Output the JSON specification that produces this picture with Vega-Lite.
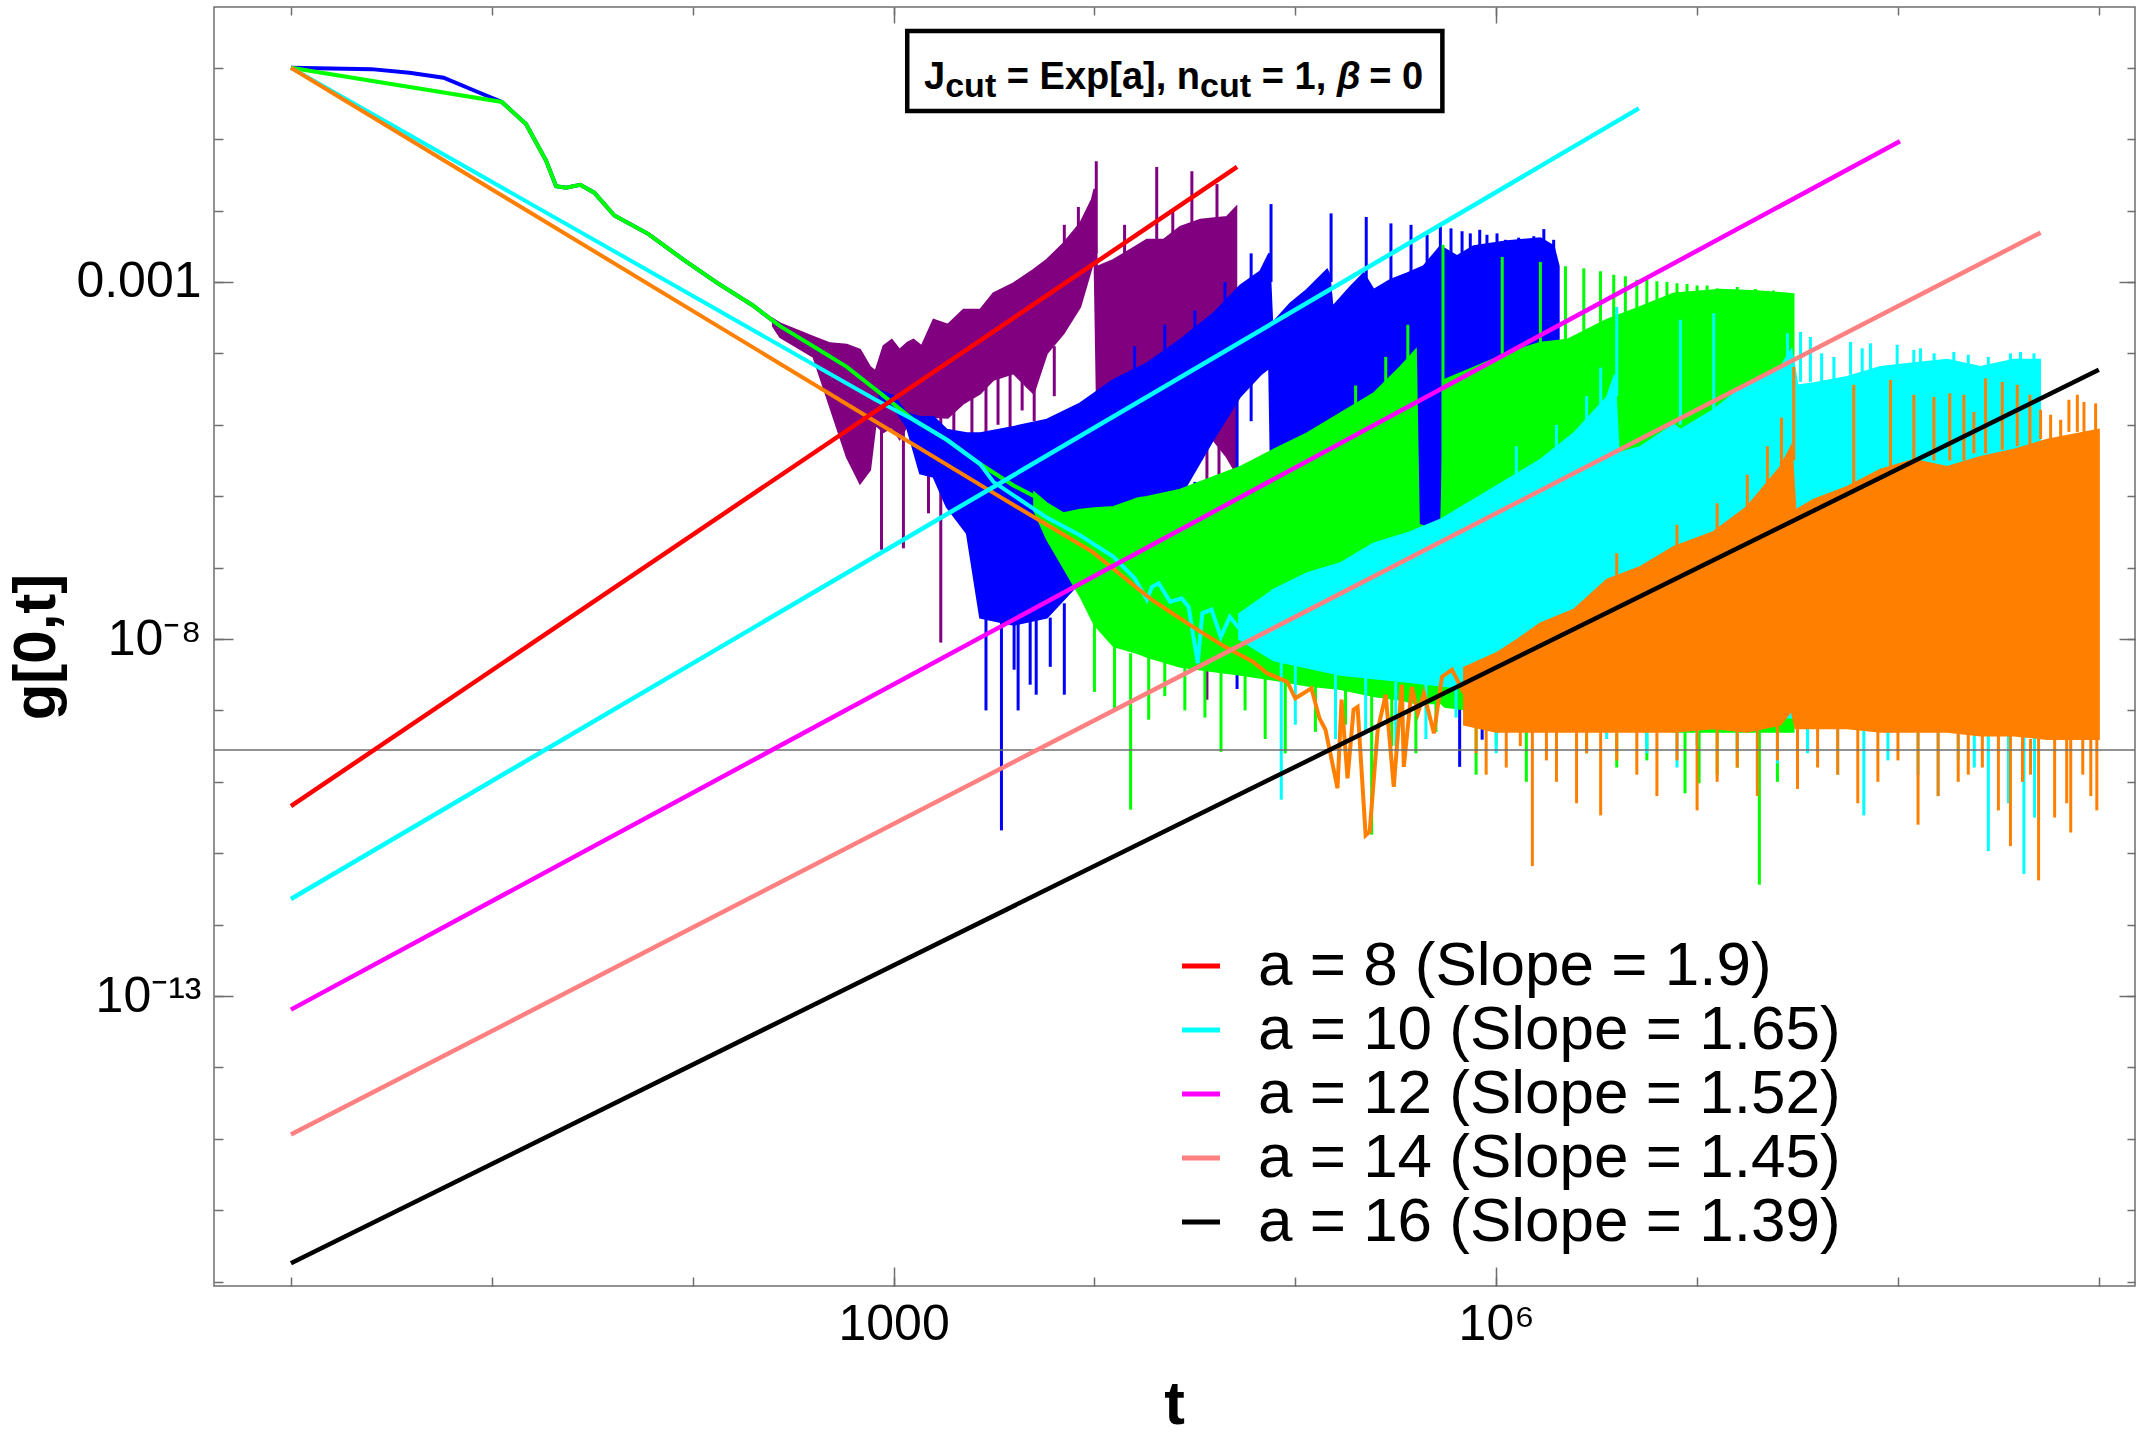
{
  "$schema": "https://vega.github.io/schema/vega-lite/v6.json",
  "width": 1921,
  "height": 1279,
  "autosize": {"type": "none"},
  "padding": {"left": 214, "top": 7, "right": 9, "bottom": 154},
  "background": "white",
  "config": {"view": {"stroke": "#6e6e6e", "strokeWidth": 1.5}, "font": "Liberation Sans"},
  "datasets": {
    "fits": [
      {"fit": "a = 8 (Slope = 1.9)", "lt": 0, "lg": -10.34},
      {"fit": "a = 8 (Slope = 1.9)", "lt": 4.71, "lg": -1.39},
      {"fit": "a = 10 (Slope = 1.65)", "lt": 0, "lg": -11.64},
      {"fit": "a = 10 (Slope = 1.65)", "lt": 6.71, "lg": -0.57},
      {"fit": "a = 12 (Slope = 1.52)", "lt": 0, "lg": -13.19},
      {"fit": "a = 12 (Slope = 1.52)", "lt": 8.01, "lg": -1.03},
      {"fit": "a = 14 (Slope = 1.45)", "lt": 0, "lg": -14.94},
      {"fit": "a = 14 (Slope = 1.45)", "lt": 8.71, "lg": -2.31},
      {"fit": "a = 16 (Slope = 1.39)", "lt": 0, "lg": -16.74},
      {"fit": "a = 16 (Slope = 1.39)", "lt": 9.0, "lg": -4.23}
    ],
    "early": [
      {"a": 10, "lt": 0, "lg": 0}, {"a": 10, "lt": 0.4, "lg": -0.02}, {"a": 10, "lt": 0.59, "lg": -0.07}, {"a": 10, "lt": 0.76, "lg": -0.14},
      {"a": 10, "lt": 0.93, "lg": -0.34}, {"a": 10, "lt": 1.05, "lg": -0.48}, {"a": 10, "lt": 1.17, "lg": -0.79},
      {"a": 10, "lt": 1.27, "lg": -1.3}, {"a": 10, "lt": 1.32, "lg": -1.66}, {"a": 10, "lt": 1.37, "lg": -1.68},
      {"a": 10, "lt": 1.44, "lg": -1.64}, {"a": 10, "lt": 1.51, "lg": -1.75}, {"a": 10, "lt": 1.61, "lg": -2.07},
      {"a": 10, "lt": 1.78, "lg": -2.33}, {"a": 10, "lt": 1.95, "lg": -2.68}, {"a": 10, "lt": 2.12, "lg": -3.01},
      {"a": 10, "lt": 2.3, "lg": -3.33}, {"a": 10, "lt": 2.435, "lg": -3.62}, {"a": 10, "lt": 2.6, "lg": -3.9},
      {"a": 10, "lt": 2.767, "lg": -4.19}, {"a": 10, "lt": 2.93, "lg": -4.55},
      {"a": 12, "lt": 0, "lg": 0}, {"a": 12, "lt": 1.05, "lg": -0.48}, {"a": 12, "lt": 1.17, "lg": -0.79},
      {"a": 12, "lt": 1.27, "lg": -1.3}, {"a": 12, "lt": 1.32, "lg": -1.66}, {"a": 12, "lt": 1.37, "lg": -1.68},
      {"a": 12, "lt": 1.44, "lg": -1.64}, {"a": 12, "lt": 1.51, "lg": -1.75}, {"a": 12, "lt": 1.61, "lg": -2.07},
      {"a": 12, "lt": 1.78, "lg": -2.33}, {"a": 12, "lt": 1.95, "lg": -2.68}, {"a": 12, "lt": 2.12, "lg": -3.01},
      {"a": 12, "lt": 2.3, "lg": -3.33}, {"a": 12, "lt": 2.435, "lg": -3.62}, {"a": 12, "lt": 2.6, "lg": -3.9},
      {"a": 12, "lt": 2.767, "lg": -4.19}, {"a": 12, "lt": 2.93, "lg": -4.55}, {"a": 12, "lt": 3.099, "lg": -4.93},
      {"a": 12, "lt": 3.265, "lg": -5.21}, {"a": 12, "lt": 3.431, "lg": -5.55}, {"a": 12, "lt": 3.597, "lg": -5.85},
      {"a": 12, "lt": 3.7, "lg": -6.0},
      {"a": 14, "lt": 0, "lg": 0}, {"a": 14, "lt": 2.908, "lg": -4.645}, {"a": 14, "lt": 3.099, "lg": -4.93},
      {"a": 14, "lt": 3.265, "lg": -5.21}, {"a": 14, "lt": 3.431, "lg": -5.55}, {"a": 14, "lt": 3.497, "lg": -5.8},
      {"a": 14, "lt": 3.763, "lg": -6.3}, {"a": 14, "lt": 3.93, "lg": -6.55}, {"a": 14, "lt": 4.095, "lg": -6.85},
      {"a": 14, "lt": 4.2, "lg": -7.15}, {"a": 14, "lt": 4.261, "lg": -7.45}, {"a": 14, "lt": 4.286, "lg": -7.27},
      {"a": 14, "lt": 4.32, "lg": -7.22}, {"a": 14, "lt": 4.377, "lg": -7.48}, {"a": 14, "lt": 4.434, "lg": -7.43},
      {"a": 14, "lt": 4.469, "lg": -7.55}, {"a": 14, "lt": 4.514, "lg": -8.34}, {"a": 14, "lt": 4.537, "lg": -7.64},
      {"a": 14, "lt": 4.583, "lg": -7.59}, {"a": 14, "lt": 4.629, "lg": -7.97}, {"a": 14, "lt": 4.674, "lg": -7.69},
      {"a": 14, "lt": 4.72, "lg": -7.85},
      {"a": 16, "lt": 0, "lg": 0}, {"a": 16, "lt": 3.53, "lg": -6.01}, {"a": 16, "lt": 3.99, "lg": -6.78},
      {"a": 16, "lt": 4.285, "lg": -7.45}, {"a": 16, "lt": 4.49, "lg": -7.83}, {"a": 16, "lt": 4.65, "lg": -8.11},
      {"a": 16, "lt": 4.79, "lg": -8.32}, {"a": 16, "lt": 4.86, "lg": -8.48}, {"a": 16, "lt": 4.96, "lg": -8.6},
      {"a": 16, "lt": 5.0, "lg": -8.83}, {"a": 16, "lt": 5.08, "lg": -8.69}, {"a": 16, "lt": 5.12, "lg": -9.11},
      {"a": 16, "lt": 5.15, "lg": -9.27}, {"a": 16, "lt": 5.21, "lg": -10.09}, {"a": 16, "lt": 5.23, "lg": -8.85},
      {"a": 16, "lt": 5.26, "lg": -9.95}, {"a": 16, "lt": 5.29, "lg": -8.99}, {"a": 16, "lt": 5.31, "lg": -8.95},
      {"a": 16, "lt": 5.35, "lg": -10.75}, {"a": 16, "lt": 5.37, "lg": -10.7}, {"a": 16, "lt": 5.41, "lg": -9.27},
      {"a": 16, "lt": 5.45, "lg": -8.78}, {"a": 16, "lt": 5.49, "lg": -10.07}, {"a": 16, "lt": 5.53, "lg": -8.64},
      {"a": 16, "lt": 5.54, "lg": -9.79}, {"a": 16, "lt": 5.58, "lg": -8.67}, {"a": 16, "lt": 5.61, "lg": -9.04},
      {"a": 16, "lt": 5.64, "lg": -8.76}, {"a": 16, "lt": 5.69, "lg": -9.32}, {"a": 16, "lt": 5.73, "lg": -8.53},
      {"a": 16, "lt": 5.78, "lg": -8.43}, {"a": 16, "lt": 5.84, "lg": -8.76}
    ],
    "bands": [
      {"a": 8, "lt": 2.4, "lo": -3.62, "hi": -3.52}, {"a": 8, "lt": 2.435, "lo": -3.77, "hi": -3.58},
      {"a": 8, "lt": 2.601, "lo": -4.05, "hi": -3.77}, {"a": 8, "lt": 2.684, "lo": -4.75, "hi": -3.86},
      {"a": 8, "lt": 2.767, "lo": -5.45, "hi": -3.88}, {"a": 8, "lt": 2.833, "lo": -5.82, "hi": -3.95},
      {"a": 8, "lt": 2.883, "lo": -5.63, "hi": -4.19}, {"a": 8, "lt": 2.91, "lo": -5.0, "hi": -4.25},
      {"a": 8, "lt": 2.95, "lo": -5.1, "hi": -3.9}, {"a": 8, "lt": 2.991, "lo": -5.03, "hi": -3.81},
      {"a": 8, "lt": 3.03, "lo": -5.2, "hi": -3.95}, {"a": 8, "lt": 3.07, "lo": -5.0, "hi": -3.85},
      {"a": 8, "lt": 3.099, "lo": -4.84, "hi": -3.81}, {"a": 8, "lt": 3.14, "lo": -5.0, "hi": -3.9},
      {"a": 8, "lt": 3.199, "lo": -4.89, "hi": -3.53}, {"a": 8, "lt": 3.27, "lo": -4.9, "hi": -3.6},
      {"a": 8, "lt": 3.348, "lo": -4.7, "hi": -3.39}, {"a": 8, "lt": 3.431, "lo": -4.56, "hi": -3.39},
      {"a": 8, "lt": 3.497, "lo": -4.37, "hi": -3.16}, {"a": 8, "lt": 3.597, "lo": -4.28, "hi": -3.02},
      {"a": 8, "lt": 3.697, "lo": -4.56, "hi": -2.83}, {"a": 8, "lt": 3.763, "lo": -4.0, "hi": -2.69},
      {"a": 8, "lt": 3.846, "lo": -3.72, "hi": -2.46}, {"a": 8, "lt": 3.929, "lo": -3.35, "hi": -2.18},
      {"a": 8, "lt": 3.987, "lo": -2.79, "hi": -1.85}, {"a": 8, "lt": 4.0, "lo": -2.6, "hi": -1.7},
      {"a": 8, "lt": 4.012, "lo": -4.65, "hi": -2.79}, {"a": 8, "lt": 4.095, "lo": -4.56, "hi": -2.69},
      {"a": 8, "lt": 4.178, "lo": -4.37, "hi": -2.55}, {"a": 8, "lt": 4.261, "lo": -4.28, "hi": -2.41},
      {"a": 8, "lt": 4.344, "lo": -4.37, "hi": -2.41}, {"a": 8, "lt": 4.427, "lo": -4.51, "hi": -2.23},
      {"a": 8, "lt": 4.527, "lo": -4.98, "hi": -2.13}, {"a": 8, "lt": 4.659, "lo": -5.45, "hi": -2.09},
      {"a": 8, "lt": 4.706, "lo": -5.68, "hi": -1.95},
      {"a": 10, "lt": 2.93, "lo": -4.62, "hi": -4.52}, {"a": 10, "lt": 3.0, "lo": -4.75, "hi": -4.6},
      {"a": 10, "lt": 3.066, "lo": -5.03, "hi": -4.84}, {"a": 10, "lt": 3.132, "lo": -5.68, "hi": -4.89},
      {"a": 10, "lt": 3.199, "lo": -5.73, "hi": -4.89}, {"a": 10, "lt": 3.265, "lo": -6.15, "hi": -5.07},
      {"a": 10, "lt": 3.365, "lo": -6.52, "hi": -5.12}, {"a": 10, "lt": 3.431, "lo": -7.7, "hi": -5.12},
      {"a": 10, "lt": 3.597, "lo": -7.8, "hi": -5.03}, {"a": 10, "lt": 3.763, "lo": -7.7, "hi": -4.93},
      {"a": 10, "lt": 3.929, "lo": -7.2, "hi": -4.7}, {"a": 10, "lt": 4.095, "lo": -6.4, "hi": -4.37},
      {"a": 10, "lt": 4.261, "lo": -6.3, "hi": -4.14}, {"a": 10, "lt": 4.427, "lo": -6.0, "hi": -3.81},
      {"a": 10, "lt": 4.593, "lo": -5.2, "hi": -3.44}, {"a": 10, "lt": 4.726, "lo": -4.6, "hi": -3.05},
      {"a": 10, "lt": 4.826, "lo": -4.3, "hi": -2.85}, {"a": 10, "lt": 4.87, "lo": -4.2, "hi": -2.6},
      {"a": 10, "lt": 4.885, "lo": -6.8, "hi": -3.58}, {"a": 10, "lt": 4.975, "lo": -6.8, "hi": -3.3},
      {"a": 10, "lt": 5.058, "lo": -6.8, "hi": -3.11}, {"a": 10, "lt": 5.158, "lo": -6.8, "hi": -2.83},
      {"a": 10, "lt": 5.17, "lo": -6.8, "hi": -2.9}, {"a": 10, "lt": 5.185, "lo": -6.8, "hi": -3.35},
      {"a": 10, "lt": 5.274, "lo": -6.8, "hi": -3.07}, {"a": 10, "lt": 5.34, "lo": -6.8, "hi": -2.88},
      {"a": 10, "lt": 5.39, "lo": -6.8, "hi": -3.11}, {"a": 10, "lt": 5.473, "lo": -6.8, "hi": -2.97},
      {"a": 10, "lt": 5.556, "lo": -6.7, "hi": -2.88}, {"a": 10, "lt": 5.639, "lo": -6.6, "hi": -2.78},
      {"a": 10, "lt": 5.722, "lo": -6.6, "hi": -2.5}, {"a": 10, "lt": 5.805, "lo": -6.6, "hi": -2.64},
      {"a": 10, "lt": 5.888, "lo": -6.6, "hi": -2.5}, {"a": 10, "lt": 6.054, "lo": -6.6, "hi": -2.43},
      {"a": 10, "lt": 6.22, "lo": -6.6, "hi": -2.39}, {"a": 10, "lt": 6.286, "lo": -6.6, "hi": -2.5},
      {"a": 10, "lt": 6.311, "lo": -6.6, "hi": -2.78},
      {"a": 12, "lt": 3.7, "lo": -6.2, "hi": -5.95}, {"a": 12, "lt": 3.763, "lo": -6.6, "hi": -6.1},
      {"a": 12, "lt": 3.846, "lo": -7.0, "hi": -6.24}, {"a": 12, "lt": 3.929, "lo": -7.4, "hi": -6.19},
      {"a": 12, "lt": 4.0, "lo": -7.8, "hi": -6.17}, {"a": 12, "lt": 4.095, "lo": -8.1, "hi": -6.15},
      {"a": 12, "lt": 4.217, "lo": -8.2, "hi": -6.03}, {"a": 12, "lt": 4.261, "lo": -8.25, "hi": -6.01},
      {"a": 12, "lt": 4.427, "lo": -8.39, "hi": -5.91}, {"a": 12, "lt": 4.593, "lo": -8.45, "hi": -5.73},
      {"a": 12, "lt": 4.726, "lo": -8.5, "hi": -5.59}, {"a": 12, "lt": 4.892, "lo": -8.57, "hi": -5.35},
      {"a": 12, "lt": 5.058, "lo": -8.65, "hi": -5.12}, {"a": 12, "lt": 5.224, "lo": -8.7, "hi": -4.84},
      {"a": 12, "lt": 5.39, "lo": -8.8, "hi": -4.56}, {"a": 12, "lt": 5.523, "lo": -8.85, "hi": -4.19},
      {"a": 12, "lt": 5.6, "lo": -8.9, "hi": -3.95}, {"a": 12, "lt": 5.615, "lo": -8.9, "hi": -6.4},
      {"a": 12, "lt": 5.725, "lo": -8.9, "hi": -6.5}, {"a": 12, "lt": 5.745, "lo": -8.95, "hi": -4.37},
      {"a": 12, "lt": 5.888, "lo": -9.0, "hi": -4.2}, {"a": 12, "lt": 6.054, "lo": -9.0, "hi": -4.0},
      {"a": 12, "lt": 6.22, "lo": -9.05, "hi": -3.85}, {"a": 12, "lt": 6.353, "lo": -9.05, "hi": -3.81},
      {"a": 12, "lt": 6.552, "lo": -9.1, "hi": -3.53}, {"a": 12, "lt": 6.718, "lo": -9.2, "hi": -3.35},
      {"a": 12, "lt": 6.884, "lo": -9.3, "hi": -3.16}, {"a": 12, "lt": 7.116, "lo": -9.3, "hi": -3.11},
      {"a": 12, "lt": 7.3, "lo": -9.3, "hi": -3.13}, {"a": 12, "lt": 7.48, "lo": -9.3, "hi": -3.17},
      {"a": 14, "lt": 4.72, "lo": -8.0, "hi": -7.65}, {"a": 14, "lt": 4.892, "lo": -8.3, "hi": -7.31},
      {"a": 14, "lt": 5.058, "lo": -8.4, "hi": -7.08}, {"a": 14, "lt": 5.224, "lo": -8.5, "hi": -6.94},
      {"a": 14, "lt": 5.39, "lo": -8.55, "hi": -6.66}, {"a": 14, "lt": 5.556, "lo": -8.6, "hi": -6.52},
      {"a": 14, "lt": 5.722, "lo": -8.65, "hi": -6.33}, {"a": 14, "lt": 5.888, "lo": -8.7, "hi": -6.05},
      {"a": 14, "lt": 6.054, "lo": -8.75, "hi": -5.77}, {"a": 14, "lt": 6.22, "lo": -8.8, "hi": -5.49},
      {"a": 14, "lt": 6.386, "lo": -8.85, "hi": -5.12}, {"a": 14, "lt": 6.552, "lo": -8.9, "hi": -4.61},
      {"a": 14, "lt": 6.59, "lo": -8.9, "hi": -4.3}, {"a": 14, "lt": 6.61, "lo": -8.95, "hi": -5.4},
      {"a": 14, "lt": 6.718, "lo": -9.0, "hi": -5.31}, {"a": 14, "lt": 6.884, "lo": -9.05, "hi": -5.0},
      {"a": 14, "lt": 6.917, "lo": -9.05, "hi": -5.07}, {"a": 14, "lt": 7.083, "lo": -9.1, "hi": -4.79},
      {"a": 14, "lt": 7.249, "lo": -9.1, "hi": -4.42}, {"a": 14, "lt": 7.415, "lo": -9.1, "hi": -4.19},
      {"a": 14, "lt": 7.47, "lo": -9.1, "hi": -3.95}, {"a": 14, "lt": 7.5, "lo": -9.1, "hi": -4.45},
      {"a": 14, "lt": 7.581, "lo": -9.1, "hi": -4.42}, {"a": 14, "lt": 7.747, "lo": -9.1, "hi": -4.33},
      {"a": 14, "lt": 7.913, "lo": -9.15, "hi": -4.19}, {"a": 14, "lt": 8.079, "lo": -9.15, "hi": -4.14},
      {"a": 14, "lt": 8.245, "lo": -9.2, "hi": -4.09}, {"a": 14, "lt": 8.411, "lo": -9.2, "hi": -4.19},
      {"a": 14, "lt": 8.577, "lo": -9.2, "hi": -4.09}, {"a": 14, "lt": 8.707, "lo": -9.2, "hi": -4.09},
      {"a": 16, "lt": 5.84, "lo": -9.2, "hi": -8.4}, {"a": 16, "lt": 6.0, "lo": -9.3, "hi": -8.2},
      {"a": 16, "lt": 6.104, "lo": -9.3, "hi": -8.01}, {"a": 16, "lt": 6.22, "lo": -9.3, "hi": -7.78},
      {"a": 16, "lt": 6.386, "lo": -9.3, "hi": -7.59}, {"a": 16, "lt": 6.552, "lo": -9.3, "hi": -7.17},
      {"a": 16, "lt": 6.718, "lo": -9.3, "hi": -6.99}, {"a": 16, "lt": 6.884, "lo": -9.3, "hi": -6.71},
      {"a": 16, "lt": 7.083, "lo": -9.25, "hi": -6.5}, {"a": 16, "lt": 7.249, "lo": -9.3, "hi": -6.15},
      {"a": 16, "lt": 7.415, "lo": -9.2, "hi": -5.59}, {"a": 16, "lt": 7.47, "lo": -9.0, "hi": -5.3},
      {"a": 16, "lt": 7.49, "lo": -9.25, "hi": -6.2}, {"a": 16, "lt": 7.581, "lo": -9.25, "hi": -6.05},
      {"a": 16, "lt": 7.747, "lo": -9.25, "hi": -5.87}, {"a": 16, "lt": 7.913, "lo": -9.3, "hi": -5.63},
      {"a": 16, "lt": 8.079, "lo": -9.3, "hi": -5.49}, {"a": 16, "lt": 8.245, "lo": -9.3, "hi": -5.59},
      {"a": 16, "lt": 8.411, "lo": -9.35, "hi": -5.45}, {"a": 16, "lt": 8.577, "lo": -9.35, "hi": -5.35},
      {"a": 16, "lt": 8.743, "lo": -9.4, "hi": -5.21}, {"a": 16, "lt": 8.909, "lo": -9.4, "hi": -5.12},
      {"a": 16, "lt": 9.0, "lo": -9.4, "hi": -5.07}
    ],
    "spikes": [
      {"a": 8, "lt": 4.009, "lo": -2.6, "hi": -1.31}, {"a": 8, "lt": 4.31, "lo": -2.6, "hi": -1.39},
      {"a": 8, "lt": 4.485, "lo": -2.4, "hi": -1.45}, {"a": 8, "lt": 4.61, "lo": -2.3, "hi": -1.63},
      {"a": 8, "lt": 3.92, "lo": -2.4, "hi": -1.95}, {"a": 8, "lt": 3.85, "lo": -2.6, "hi": -2.2},
      {"a": 8, "lt": 4.15, "lo": -2.8, "hi": -2.2}, {"a": 8, "lt": 4.39, "lo": -2.6, "hi": -2.0},
      {"a": 8, "lt": 2.94, "lo": -6.75, "hi": -5.0}, {"a": 8, "lt": 3.049, "lo": -6.73, "hi": -5.0},
      {"a": 8, "lt": 3.174, "lo": -6.24, "hi": -4.9}, {"a": 8, "lt": 3.235, "lo": -8.05, "hi": -4.9},
      {"a": 8, "lt": 3.3, "lo": -5.6, "hi": -4.8}, {"a": 8, "lt": 3.39, "lo": -5.3, "hi": -4.6},
      {"a": 8, "lt": 3.46, "lo": -5.5, "hi": -4.4}, {"a": 8, "lt": 3.52, "lo": -5.0, "hi": -4.3},
      {"a": 8, "lt": 3.58, "lo": -5.2, "hi": -4.2}, {"a": 8, "lt": 3.64, "lo": -4.8, "hi": -4.2},
      {"a": 8, "lt": 3.7, "lo": -4.95, "hi": -4.4}, {"a": 8, "lt": 3.8, "lo": -4.6, "hi": -3.9},
      {"a": 8, "lt": 4.22, "lo": -6.05, "hi": -4.3}, {"a": 8, "lt": 4.3, "lo": -5.5, "hi": -4.3},
      {"a": 8, "lt": 4.4, "lo": -5.2, "hi": -4.4}, {"a": 8, "lt": 4.56, "lo": -8.85, "hi": -5.0},
      {"a": 8, "lt": 4.62, "lo": -5.9, "hi": -5.2},
      {"a": 10, "lt": 4.879, "lo": -3.0, "hi": -1.91}, {"a": 10, "lt": 5.178, "lo": -3.0, "hi": -2.04},
      {"a": 10, "lt": 5.353, "lo": -3.0, "hi": -2.09}, {"a": 10, "lt": 5.476, "lo": -3.0, "hi": -2.18},
      {"a": 10, "lt": 5.576, "lo": -3.0, "hi": -2.2}, {"a": 10, "lt": 5.656, "lo": -3.0, "hi": -2.34},
      {"a": 10, "lt": 5.722, "lo": -2.8, "hi": -2.22}, {"a": 10, "lt": 5.775, "lo": -2.8, "hi": -2.25},
      {"a": 10, "lt": 5.83, "lo": -2.8, "hi": -2.29}, {"a": 10, "lt": 5.871, "lo": -2.8, "hi": -2.32},
      {"a": 10, "lt": 5.918, "lo": -2.8, "hi": -2.27}, {"a": 10, "lt": 5.954, "lo": -2.8, "hi": -2.34},
      {"a": 10, "lt": 6.004, "lo": -2.8, "hi": -2.32}, {"a": 10, "lt": 6.046, "lo": -2.8, "hi": -2.41},
      {"a": 10, "lt": 6.112, "lo": -2.8, "hi": -2.38}, {"a": 10, "lt": 6.154, "lo": -2.8, "hi": -2.41},
      {"a": 10, "lt": 6.187, "lo": -2.8, "hi": -2.36}, {"a": 10, "lt": 6.237, "lo": -2.8, "hi": -2.26},
      {"a": 10, "lt": 6.286, "lo": -2.8, "hi": -2.41},
      {"a": 10, "lt": 4.2, "lo": -4.6, "hi": -3.9}, {"a": 10, "lt": 4.35, "lo": -4.4, "hi": -3.6},
      {"a": 10, "lt": 4.5, "lo": -4.1, "hi": -3.4}, {"a": 10, "lt": 4.65, "lo": -3.8, "hi": -3.0},
      {"a": 10, "lt": 4.78, "lo": -3.4, "hi": -2.6},
      {"a": 10, "lt": 3.46, "lo": -9.0, "hi": -7.7}, {"a": 10, "lt": 3.537, "lo": -10.68, "hi": -7.7},
      {"a": 10, "lt": 3.6, "lo": -8.43, "hi": -7.7}, {"a": 10, "lt": 3.62, "lo": -9.0, "hi": -7.7},
      {"a": 10, "lt": 3.68, "lo": -8.64, "hi": -7.7}, {"a": 10, "lt": 3.71, "lo": -8.78, "hi": -7.7},
      {"a": 10, "lt": 3.78, "lo": -8.39, "hi": -7.7}, {"a": 10, "lt": 3.85, "lo": -8.78, "hi": -7.5},
      {"a": 10, "lt": 4.0, "lo": -7.6, "hi": -6.8}, {"a": 10, "lt": 4.15, "lo": -7.0, "hi": -6.3},
      {"a": 10, "lt": 4.35, "lo": -6.8, "hi": -6.0}, {"a": 10, "lt": 4.5, "lo": -6.5, "hi": -5.8},
      {"a": 10, "lt": 4.71, "lo": -8.7, "hi": -4.6}, {"a": 10, "lt": 4.78, "lo": -4.95, "hi": -4.4},
      {"a": 10, "lt": 5.27, "lo": -8.67, "hi": -6.8}, {"a": 10, "lt": 5.43, "lo": -8.7, "hi": -6.8},
      {"a": 10, "lt": 5.52, "lo": -8.57, "hi": -6.8}, {"a": 10, "lt": 5.61, "lo": -8.53, "hi": -6.6},
      {"a": 10, "lt": 5.818, "lo": -9.79, "hi": -6.6}, {"a": 10, "lt": 5.86, "lo": -8.85, "hi": -6.6},
      {"a": 10, "lt": 5.93, "lo": -9.41, "hi": -6.6},
      {"a": 12, "lt": 5.735, "lo": -6.5, "hi": -2.48}, {"a": 12, "lt": 6.03, "lo": -4.1, "hi": -2.65},
      {"a": 12, "lt": 6.22, "lo": -3.9, "hi": -2.72}, {"a": 12, "lt": 6.345, "lo": -3.85, "hi": -2.78},
      {"a": 12, "lt": 6.436, "lo": -3.7, "hi": -2.81}, {"a": 12, "lt": 6.519, "lo": -3.6, "hi": -2.85},
      {"a": 12, "lt": 6.585, "lo": -3.5, "hi": -2.9}, {"a": 12, "lt": 6.643, "lo": -3.45, "hi": -2.92},
      {"a": 12, "lt": 6.7, "lo": -3.4, "hi": -2.97}, {"a": 12, "lt": 6.75, "lo": -3.35, "hi": -2.97},
      {"a": 12, "lt": 6.8, "lo": -3.3, "hi": -2.99}, {"a": 12, "lt": 6.85, "lo": -3.25, "hi": -3.0},
      {"a": 12, "lt": 6.9, "lo": -3.2, "hi": -3.02}, {"a": 12, "lt": 6.95, "lo": -3.2, "hi": -3.03},
      {"a": 12, "lt": 7.0, "lo": -3.2, "hi": -3.05}, {"a": 12, "lt": 7.05, "lo": -3.2, "hi": -3.05},
      {"a": 12, "lt": 7.1, "lo": -3.2, "hi": -3.09}, {"a": 12, "lt": 7.2, "lo": -3.25, "hi": -3.07},
      {"a": 12, "lt": 7.29, "lo": -3.25, "hi": -3.1}, {"a": 12, "lt": 7.38, "lo": -3.25, "hi": -3.12},
      {"a": 12, "lt": 7.46, "lo": -3.3, "hi": -3.17},
      {"a": 12, "lt": 5.3, "lo": -4.9, "hi": -4.45}, {"a": 12, "lt": 5.45, "lo": -4.6, "hi": -4.05},
      {"a": 12, "lt": 5.56, "lo": -4.3, "hi": -3.6},
      {"a": 12, "lt": 4.0, "lo": -8.74, "hi": -7.8}, {"a": 12, "lt": 4.1, "lo": -9.0, "hi": -8.0},
      {"a": 12, "lt": 4.18, "lo": -10.39, "hi": -8.2}, {"a": 12, "lt": 4.27, "lo": -9.13, "hi": -8.2},
      {"a": 12, "lt": 4.35, "lo": -8.8, "hi": -8.3}, {"a": 12, "lt": 4.45, "lo": -9.0, "hi": -8.3},
      {"a": 12, "lt": 4.55, "lo": -9.1, "hi": -8.4}, {"a": 12, "lt": 4.63, "lo": -9.58, "hi": -8.45},
      {"a": 12, "lt": 4.75, "lo": -9.0, "hi": -8.5}, {"a": 12, "lt": 4.85, "lo": -9.4, "hi": -8.5},
      {"a": 12, "lt": 4.95, "lo": -9.6, "hi": -8.6}, {"a": 12, "lt": 5.1, "lo": -9.3, "hi": -8.6},
      {"a": 12, "lt": 5.25, "lo": -9.2, "hi": -8.7}, {"a": 12, "lt": 5.38, "lo": -10.74, "hi": -8.8},
      {"a": 12, "lt": 5.48, "lo": -9.5, "hi": -8.8}, {"a": 12, "lt": 5.6, "lo": -9.6, "hi": -8.9},
      {"a": 12, "lt": 5.7, "lo": -9.3, "hi": -8.9}, {"a": 12, "lt": 5.9, "lo": -9.9, "hi": -9.0},
      {"a": 12, "lt": 6.0, "lo": -9.5, "hi": -9.0}, {"a": 12, "lt": 6.15, "lo": -10.0, "hi": -9.0},
      {"a": 12, "lt": 6.3, "lo": -9.7, "hi": -9.0}, {"a": 12, "lt": 6.45, "lo": -9.6, "hi": -9.05},
      {"a": 12, "lt": 6.6, "lo": -9.8, "hi": -9.1}, {"a": 12, "lt": 6.75, "lo": -9.7, "hi": -9.2},
      {"a": 12, "lt": 6.94, "lo": -10.16, "hi": -9.3}, {"a": 12, "lt": 7.01, "lo": -10.02, "hi": -9.3},
      {"a": 12, "lt": 7.1, "lo": -9.9, "hi": -9.3}, {"a": 12, "lt": 7.2, "lo": -9.8, "hi": -9.3},
      {"a": 12, "lt": 7.31, "lo": -11.44, "hi": -9.3}, {"a": 12, "lt": 7.4, "lo": -10.0, "hi": -9.3},
      {"a": 14, "lt": 6.6, "lo": -4.6, "hi": -3.35}, {"a": 14, "lt": 6.917, "lo": -5.0, "hi": -3.53},
      {"a": 14, "lt": 7.083, "lo": -4.8, "hi": -3.44}, {"a": 14, "lt": 7.45, "lo": -4.2, "hi": -3.72},
      {"a": 14, "lt": 7.515, "lo": -4.4, "hi": -3.7}, {"a": 14, "lt": 7.564, "lo": -4.4, "hi": -3.77},
      {"a": 14, "lt": 7.62, "lo": -4.4, "hi": -4.0}, {"a": 14, "lt": 7.681, "lo": -4.4, "hi": -4.05},
      {"a": 14, "lt": 7.764, "lo": -4.3, "hi": -3.84}, {"a": 14, "lt": 7.822, "lo": -4.3, "hi": -3.93},
      {"a": 14, "lt": 7.863, "lo": -4.3, "hi": -3.86}, {"a": 14, "lt": 7.996, "lo": -4.2, "hi": -3.88},
      {"a": 14, "lt": 8.079, "lo": -4.2, "hi": -3.95}, {"a": 14, "lt": 8.112, "lo": -4.2, "hi": -3.93},
      {"a": 14, "lt": 8.18, "lo": -4.2, "hi": -4.0}, {"a": 14, "lt": 8.278, "lo": -4.2, "hi": -3.98},
      {"a": 14, "lt": 8.35, "lo": -4.2, "hi": -4.02}, {"a": 14, "lt": 8.45, "lo": -4.2, "hi": -4.05},
      {"a": 14, "lt": 8.56, "lo": -4.2, "hi": -4.0}, {"a": 14, "lt": 8.61, "lo": -4.2, "hi": -3.98},
      {"a": 14, "lt": 8.677, "lo": -4.2, "hi": -4.0},
      {"a": 14, "lt": 6.1, "lo": -5.8, "hi": -5.3}, {"a": 14, "lt": 6.3, "lo": -5.4, "hi": -5.0},
      {"a": 14, "lt": 6.45, "lo": -5.0, "hi": -4.6}, {"a": 14, "lt": 6.52, "lo": -4.8, "hi": -4.2},
      {"a": 14, "lt": 4.93, "lo": -10.25, "hi": -8.3}, {"a": 14, "lt": 5.0, "lo": -9.2, "hi": -8.3},
      {"a": 14, "lt": 5.2, "lo": -9.4, "hi": -8.5}, {"a": 14, "lt": 5.35, "lo": -9.3, "hi": -8.5},
      {"a": 14, "lt": 5.5, "lo": -9.5, "hi": -8.6}, {"a": 14, "lt": 5.65, "lo": -9.4, "hi": -8.6},
      {"a": 14, "lt": 5.8, "lo": -9.1, "hi": -8.7}, {"a": 14, "lt": 6.0, "lo": -9.6, "hi": -8.7},
      {"a": 14, "lt": 6.15, "lo": -9.3, "hi": -8.8}, {"a": 14, "lt": 6.3, "lo": -9.7, "hi": -8.8},
      {"a": 14, "lt": 6.4, "lo": -9.5, "hi": -8.9}, {"a": 14, "lt": 6.55, "lo": -9.4, "hi": -8.9},
      {"a": 14, "lt": 6.75, "lo": -9.6, "hi": -9.0}, {"a": 14, "lt": 6.9, "lo": -9.8, "hi": -9.0},
      {"a": 14, "lt": 7.0, "lo": -9.5, "hi": -9.1}, {"a": 14, "lt": 7.2, "lo": -9.6, "hi": -9.1},
      {"a": 14, "lt": 7.3, "lo": -10.1, "hi": -9.1}, {"a": 14, "lt": 7.4, "lo": -9.74, "hi": -9.1},
      {"a": 14, "lt": 7.55, "lo": -9.6, "hi": -9.1}, {"a": 14, "lt": 7.7, "lo": -9.9, "hi": -9.1},
      {"a": 14, "lt": 7.83, "lo": -10.47, "hi": -9.1}, {"a": 14, "lt": 7.95, "lo": -9.7, "hi": -9.1},
      {"a": 14, "lt": 8.1, "lo": -9.9, "hi": -9.1}, {"a": 14, "lt": 8.2, "lo": -10.2, "hi": -9.2},
      {"a": 14, "lt": 8.3, "lo": -9.7, "hi": -9.2}, {"a": 14, "lt": 8.38, "lo": -9.8, "hi": -9.2},
      {"a": 14, "lt": 8.45, "lo": -10.97, "hi": -9.2}, {"a": 14, "lt": 8.55, "lo": -10.3, "hi": -9.2},
      {"a": 14, "lt": 8.627, "lo": -11.29, "hi": -9.2}, {"a": 14, "lt": 8.68, "lo": -10.5, "hi": -9.2},
      {"a": 16, "lt": 7.481, "lo": -5.5, "hi": -4.19}, {"a": 16, "lt": 7.78, "lo": -5.9, "hi": -4.44},
      {"a": 16, "lt": 7.963, "lo": -5.6, "hi": -4.37}, {"a": 16, "lt": 8.079, "lo": -5.5, "hi": -4.58},
      {"a": 16, "lt": 8.179, "lo": -5.5, "hi": -4.61}, {"a": 16, "lt": 8.258, "lo": -5.5, "hi": -4.56},
      {"a": 16, "lt": 8.328, "lo": -5.5, "hi": -4.58}, {"a": 16, "lt": 8.378, "lo": -5.4, "hi": -4.82},
      {"a": 16, "lt": 8.436, "lo": -5.4, "hi": -4.35}, {"a": 16, "lt": 8.519, "lo": -5.35, "hi": -4.4},
      {"a": 16, "lt": 8.594, "lo": -5.3, "hi": -4.44}, {"a": 16, "lt": 8.657, "lo": -5.3, "hi": -4.58},
      {"a": 16, "lt": 8.71, "lo": -5.2, "hi": -4.79}, {"a": 16, "lt": 8.76, "lo": -5.2, "hi": -4.86},
      {"a": 16, "lt": 8.81, "lo": -5.2, "hi": -4.93}, {"a": 16, "lt": 8.851, "lo": -5.1, "hi": -4.65},
      {"a": 16, "lt": 8.893, "lo": -5.1, "hi": -4.58}, {"a": 16, "lt": 8.926, "lo": -5.1, "hi": -4.68},
      {"a": 16, "lt": 8.984, "lo": -5.1, "hi": -4.7},
      {"a": 16, "lt": 6.6, "lo": -7.2, "hi": -6.8}, {"a": 16, "lt": 6.9, "lo": -6.8, "hi": -6.4},
      {"a": 16, "lt": 7.1, "lo": -6.5, "hi": -6.1}, {"a": 16, "lt": 7.25, "lo": -6.2, "hi": -5.7},
      {"a": 16, "lt": 7.35, "lo": -5.9, "hi": -5.3}, {"a": 16, "lt": 7.42, "lo": -5.6, "hi": -4.9},
      {"a": 16, "lt": 5.9, "lo": -9.6, "hi": -9.2}, {"a": 16, "lt": 5.95, "lo": -9.9, "hi": -9.2},
      {"a": 16, "lt": 6.05, "lo": -9.8, "hi": -9.3}, {"a": 16, "lt": 6.12, "lo": -9.5, "hi": -9.3},
      {"a": 16, "lt": 6.18, "lo": -11.18, "hi": -9.3}, {"a": 16, "lt": 6.25, "lo": -9.7, "hi": -9.3},
      {"a": 16, "lt": 6.3, "lo": -10.0, "hi": -9.3}, {"a": 16, "lt": 6.4, "lo": -10.3, "hi": -9.3},
      {"a": 16, "lt": 6.45, "lo": -9.6, "hi": -9.3}, {"a": 16, "lt": 6.52, "lo": -10.47, "hi": -9.3},
      {"a": 16, "lt": 6.6, "lo": -9.7, "hi": -9.3}, {"a": 16, "lt": 6.7, "lo": -9.9, "hi": -9.3},
      {"a": 16, "lt": 6.8, "lo": -10.2, "hi": -9.3}, {"a": 16, "lt": 6.9, "lo": -9.7, "hi": -9.3},
      {"a": 16, "lt": 7.0, "lo": -10.4, "hi": -9.25}, {"a": 16, "lt": 7.1, "lo": -10.0, "hi": -9.25},
      {"a": 16, "lt": 7.2, "lo": -9.8, "hi": -9.25}, {"a": 16, "lt": 7.3, "lo": -10.2, "hi": -9.25},
      {"a": 16, "lt": 7.4, "lo": -9.7, "hi": -9.2}, {"a": 16, "lt": 7.5, "lo": -10.1, "hi": -9.25},
      {"a": 16, "lt": 7.6, "lo": -9.8, "hi": -9.25}, {"a": 16, "lt": 7.7, "lo": -9.9, "hi": -9.25},
      {"a": 16, "lt": 7.8, "lo": -10.3, "hi": -9.25}, {"a": 16, "lt": 7.9, "lo": -10.0, "hi": -9.3},
      {"a": 16, "lt": 8.0, "lo": -9.7, "hi": -9.3}, {"a": 16, "lt": 8.1, "lo": -10.6, "hi": -9.3},
      {"a": 16, "lt": 8.2, "lo": -10.2, "hi": -9.3}, {"a": 16, "lt": 8.3, "lo": -10.0, "hi": -9.3},
      {"a": 16, "lt": 8.35, "lo": -9.9, "hi": -9.3}, {"a": 16, "lt": 8.42, "lo": -9.8, "hi": -9.35},
      {"a": 16, "lt": 8.5, "lo": -10.4, "hi": -9.35}, {"a": 16, "lt": 8.56, "lo": -10.9, "hi": -9.35},
      {"a": 16, "lt": 8.62, "lo": -10.0, "hi": -9.35}, {"a": 16, "lt": 8.66, "lo": -9.9, "hi": -9.4},
      {"a": 16, "lt": 8.7, "lo": -11.38, "hi": -9.4}, {"a": 16, "lt": 8.78, "lo": -10.5, "hi": -9.4},
      {"a": 16, "lt": 8.84, "lo": -10.3, "hi": -9.4}, {"a": 16, "lt": 8.86, "lo": -10.71, "hi": -9.4},
      {"a": 16, "lt": 8.92, "lo": -9.9, "hi": -9.4}, {"a": 16, "lt": 8.96, "lo": -10.2, "hi": -9.4},
      {"a": 16, "lt": 8.99, "lo": -10.4, "hi": -9.4}
    ]
  },
  "layer": [
    {"data": {"name": "bands"}, "transform": [{"filter": "datum.a == 8"}],
     "mark": {"type": "area", "color": "#800080", "stroke": "#800080", "strokeWidth": 2},
     "encoding": {"x": {"field": "lt", "type": "quantitative", "scale": {"domain": [-0.383, 9.18], "nice": false, "zero": false}, "axis": null},
                  "y": {"field": "hi", "type": "quantitative", "scale": {"domain": [-17.06, 0.85], "nice": false, "zero": false}, "axis": null},
                  "y2": {"field": "lo"}}},
    {"data": {"name": "spikes"}, "transform": [{"filter": "datum.a == 8"}],
     "mark": {"type": "rule", "color": "#800080", "strokeWidth": 3},
     "encoding": {"x": {"field": "lt", "type": "quantitative", "scale": {"domain": [-0.383, 9.18], "nice": false, "zero": false}, "axis": null},
                  "y": {"field": "hi", "type": "quantitative", "scale": {"domain": [-17.06, 0.85], "nice": false, "zero": false}, "axis": null},
                  "y2": {"field": "lo"}}},
    {"data": {"name": "early"}, "transform": [{"filter": "datum.a == 10"}],
     "mark": {"type": "line", "color": "#0000ff", "strokeWidth": 4},
     "encoding": {"x": {"field": "lt", "type": "quantitative", "scale": {"domain": [-0.383, 9.18], "nice": false, "zero": false}, "axis": null},
                  "y": {"field": "lg", "type": "quantitative", "scale": {"domain": [-17.06, 0.85], "nice": false, "zero": false}, "axis": null}}},
    {"data": {"name": "bands"}, "transform": [{"filter": "datum.a == 10"}],
     "mark": {"type": "area", "color": "#0000ff", "stroke": "#0000ff", "strokeWidth": 2},
     "encoding": {"x": {"field": "lt", "type": "quantitative", "scale": {"domain": [-0.383, 9.18], "nice": false, "zero": false}, "axis": null},
                  "y": {"field": "hi", "type": "quantitative", "scale": {"domain": [-17.06, 0.85], "nice": false, "zero": false}, "axis": null},
                  "y2": {"field": "lo"}}},
    {"data": {"name": "spikes"}, "transform": [{"filter": "datum.a == 10"}],
     "mark": {"type": "rule", "color": "#0000ff", "strokeWidth": 3},
     "encoding": {"x": {"field": "lt", "type": "quantitative", "scale": {"domain": [-0.383, 9.18], "nice": false, "zero": false}, "axis": null},
                  "y": {"field": "hi", "type": "quantitative", "scale": {"domain": [-17.06, 0.85], "nice": false, "zero": false}, "axis": null},
                  "y2": {"field": "lo"}}},
    {"data": {"name": "early"}, "transform": [{"filter": "datum.a == 12"}],
     "mark": {"type": "line", "color": "#00ff00", "strokeWidth": 4},
     "encoding": {"x": {"field": "lt", "type": "quantitative", "scale": {"domain": [-0.383, 9.18], "nice": false, "zero": false}, "axis": null},
                  "y": {"field": "lg", "type": "quantitative", "scale": {"domain": [-17.06, 0.85], "nice": false, "zero": false}, "axis": null}}},
    {"data": {"name": "bands"}, "transform": [{"filter": "datum.a == 12"}],
     "mark": {"type": "area", "color": "#00ff00", "stroke": "#00ff00", "strokeWidth": 2},
     "encoding": {"x": {"field": "lt", "type": "quantitative", "scale": {"domain": [-0.383, 9.18], "nice": false, "zero": false}, "axis": null},
                  "y": {"field": "hi", "type": "quantitative", "scale": {"domain": [-17.06, 0.85], "nice": false, "zero": false}, "axis": null},
                  "y2": {"field": "lo"}}},
    {"data": {"name": "spikes"}, "transform": [{"filter": "datum.a == 12"}],
     "mark": {"type": "rule", "color": "#00ff00", "strokeWidth": 3},
     "encoding": {"x": {"field": "lt", "type": "quantitative", "scale": {"domain": [-0.383, 9.18], "nice": false, "zero": false}, "axis": null},
                  "y": {"field": "hi", "type": "quantitative", "scale": {"domain": [-17.06, 0.85], "nice": false, "zero": false}, "axis": null},
                  "y2": {"field": "lo"}}},
    {"data": {"name": "early"}, "transform": [{"filter": "datum.a == 14"}],
     "mark": {"type": "line", "color": "#00ffff", "strokeWidth": 4},
     "encoding": {"x": {"field": "lt", "type": "quantitative", "scale": {"domain": [-0.383, 9.18], "nice": false, "zero": false}, "axis": null},
                  "y": {"field": "lg", "type": "quantitative", "scale": {"domain": [-17.06, 0.85], "nice": false, "zero": false}, "axis": null}}},
    {"data": {"name": "bands"}, "transform": [{"filter": "datum.a == 14"}],
     "mark": {"type": "area", "color": "#00ffff", "stroke": "#00ffff", "strokeWidth": 2},
     "encoding": {"x": {"field": "lt", "type": "quantitative", "scale": {"domain": [-0.383, 9.18], "nice": false, "zero": false}, "axis": null},
                  "y": {"field": "hi", "type": "quantitative", "scale": {"domain": [-17.06, 0.85], "nice": false, "zero": false}, "axis": null},
                  "y2": {"field": "lo"}}},
    {"data": {"name": "spikes"}, "transform": [{"filter": "datum.a == 14"}],
     "mark": {"type": "rule", "color": "#00ffff", "strokeWidth": 3},
     "encoding": {"x": {"field": "lt", "type": "quantitative", "scale": {"domain": [-0.383, 9.18], "nice": false, "zero": false}, "axis": null},
                  "y": {"field": "hi", "type": "quantitative", "scale": {"domain": [-17.06, 0.85], "nice": false, "zero": false}, "axis": null},
                  "y2": {"field": "lo"}}},
    {"data": {"name": "early"}, "transform": [{"filter": "datum.a == 16"}],
     "mark": {"type": "line", "color": "#ff8000", "strokeWidth": 4},
     "encoding": {"x": {"field": "lt", "type": "quantitative", "scale": {"domain": [-0.383, 9.18], "nice": false, "zero": false}, "axis": null},
                  "y": {"field": "lg", "type": "quantitative", "scale": {"domain": [-17.06, 0.85], "nice": false, "zero": false}, "axis": null}}},
    {"data": {"name": "bands"}, "transform": [{"filter": "datum.a == 16"}],
     "mark": {"type": "area", "color": "#ff8000", "stroke": "#ff8000", "strokeWidth": 2},
     "encoding": {"x": {"field": "lt", "type": "quantitative", "scale": {"domain": [-0.383, 9.18], "nice": false, "zero": false}, "axis": null},
                  "y": {"field": "hi", "type": "quantitative", "scale": {"domain": [-17.06, 0.85], "nice": false, "zero": false}, "axis": null},
                  "y2": {"field": "lo"}}},
    {"data": {"name": "spikes"}, "transform": [{"filter": "datum.a == 16"}],
     "mark": {"type": "rule", "color": "#ff8000", "strokeWidth": 3},
     "encoding": {"x": {"field": "lt", "type": "quantitative", "scale": {"domain": [-0.383, 9.18], "nice": false, "zero": false}, "axis": null},
                  "y": {"field": "hi", "type": "quantitative", "scale": {"domain": [-17.06, 0.85], "nice": false, "zero": false}, "axis": null},
                  "y2": {"field": "lo"}}},
    {"data": {"values": [{}]},
     "mark": {"type": "rule", "color": "#6e6e6e", "strokeWidth": 1.5},
     "encoding": {"y": {"datum": -9.555, "type": "quantitative", "scale": {"domain": [-17.06, 0.85], "nice": false, "zero": false}, "axis": null}}},
    {"data": {"name": "fits"},
     "mark": {"type": "line", "strokeWidth": 4.5},
     "encoding": {"x": {"field": "lt", "type": "quantitative", "scale": {"domain": [-0.383, 9.18], "nice": false, "zero": false}, "axis": null},
                  "y": {"field": "lg", "type": "quantitative", "scale": {"domain": [-17.06, 0.85], "nice": false, "zero": false}, "axis": null},
                  "color": {"field": "fit", "type": "nominal",
                            "scale": {"domain": ["a = 8 (Slope = 1.9)", "a = 10 (Slope = 1.65)", "a = 12 (Slope = 1.52)", "a = 14 (Slope = 1.45)", "a = 16 (Slope = 1.39)"],
                                      "range": ["#ff0000", "#00ffff", "#ff00ff", "#ff8080", "#000000"]},
                            "legend": {"orient": "none", "legendX": 956, "legendY": 928, "title": null, "padding": 0,
                                       "symbolType": "stroke", "symbolSize": 1444, "symbolStrokeWidth": 5,
                                       "labelFontSize": 62, "labelFont": "Liberation Sans", "labelColor": "black",
                                       "labelLimit": 0, "labelOffset": 26, "rowPadding": 2}}}},
    {"data": {"values": [{}]},
     "mark": {"type": "rect", "fill": "white", "stroke": "black", "strokeWidth": 4.5},
     "encoding": {"x": {"datum": 3.068, "type": "quantitative", "scale": {"domain": [-0.383, 9.18], "nice": false, "zero": false}, "axis": null},
                  "x2": {"datum": 5.732},
                  "y": {"datum": 0.515, "type": "quantitative", "scale": {"domain": [-17.06, 0.85], "nice": false, "zero": false}, "axis": null},
                  "y2": {"datum": -0.605}}},
    {"data": {"values": [{}]},
     "mark": {"type": "text", "text": "J", "font": "Liberation Sans", "fontSize": 38, "fontWeight": "bold", "align": "left", "baseline": "alphabetic", "color": "black"},
     "encoding": {"x": {"datum": 3.152, "type": "quantitative", "scale": {"domain": [-0.383, 9.18], "nice": false, "zero": false}, "axis": null},
                  "y": {"datum": -0.297, "type": "quantitative", "scale": {"domain": [-17.06, 0.85], "nice": false, "zero": false}, "axis": null}}},
    {"data": {"values": [{}]},
     "mark": {"type": "text", "text": "cut", "font": "Liberation Sans", "fontSize": 34, "fontWeight": "bold", "align": "left", "baseline": "alphabetic", "color": "black"},
     "encoding": {"x": {"datum": 3.257, "type": "quantitative", "scale": {"domain": [-0.383, 9.18], "nice": false, "zero": false}, "axis": null},
                  "y": {"datum": -0.409, "type": "quantitative", "scale": {"domain": [-17.06, 0.85], "nice": false, "zero": false}, "axis": null}}},
    {"data": {"values": [{}]},
     "mark": {"type": "text", "text": "= Exp[a], n", "font": "Liberation Sans", "fontSize": 38, "fontWeight": "bold", "align": "left", "baseline": "alphabetic", "color": "black"},
     "encoding": {"x": {"datum": 3.564, "type": "quantitative", "scale": {"domain": [-0.383, 9.18], "nice": false, "zero": false}, "axis": null},
                  "y": {"datum": -0.297, "type": "quantitative", "scale": {"domain": [-17.06, 0.85], "nice": false, "zero": false}, "axis": null}}},
    {"data": {"values": [{}]},
     "mark": {"type": "text", "text": "cut", "font": "Liberation Sans", "fontSize": 34, "fontWeight": "bold", "align": "left", "baseline": "alphabetic", "color": "black"},
     "encoding": {"x": {"datum": 4.526, "type": "quantitative", "scale": {"domain": [-0.383, 9.18], "nice": false, "zero": false}, "axis": null},
                  "y": {"datum": -0.409, "type": "quantitative", "scale": {"domain": [-17.06, 0.85], "nice": false, "zero": false}, "axis": null}}},
    {"data": {"values": [{}]},
     "mark": {"type": "text", "text": "= 1,", "font": "Liberation Sans", "fontSize": 38, "fontWeight": "bold", "align": "left", "baseline": "alphabetic", "color": "black"},
     "encoding": {"x": {"datum": 4.833, "type": "quantitative", "scale": {"domain": [-0.383, 9.18], "nice": false, "zero": false}, "axis": null},
                  "y": {"datum": -0.297, "type": "quantitative", "scale": {"domain": [-17.06, 0.85], "nice": false, "zero": false}, "axis": null}}},
    {"data": {"values": [{}]},
     "mark": {"type": "text", "text": "β", "font": "Liberation Sans", "fontSize": 38, "fontWeight": "bold", "fontStyle": "italic", "align": "left", "baseline": "alphabetic", "color": "black"},
     "encoding": {"x": {"datum": 5.207, "type": "quantitative", "scale": {"domain": [-0.383, 9.18], "nice": false, "zero": false}, "axis": null},
                  "y": {"datum": -0.297, "type": "quantitative", "scale": {"domain": [-17.06, 0.85], "nice": false, "zero": false}, "axis": null}}},
    {"data": {"values": [{}]},
     "mark": {"type": "text", "text": "= 0", "font": "Liberation Sans", "fontSize": 38, "fontWeight": "bold", "align": "left", "baseline": "alphabetic", "color": "black"},
     "encoding": {"x": {"datum": 5.368, "type": "quantitative", "scale": {"domain": [-0.383, 9.18], "nice": false, "zero": false}, "axis": null},
                  "y": {"datum": -0.297, "type": "quantitative", "scale": {"domain": [-17.06, 0.85], "nice": false, "zero": false}, "axis": null}}},
    {"data": {"name": "fits"},
     "mark": {"type": "point", "opacity": 0},
     "encoding": {"x": {"field": "lt", "type": "quantitative", "scale": {"domain": [-0.383, 9.18], "nice": false, "zero": false},
                        "axis": {"orient": "bottom", "values": [3, 6], "labelExpr": "datum.value == 3 ? '1000' : '10⁶'",
                                 "ticks": false, "domain": false, "grid": false, "labelFontSize": 50, "labelFont": "Liberation Sans",
                                 "labelColor": "black", "labelPadding": 13, "labelOverlap": false, "labelBound": false, "labelFlush": false,
                                 "title": "t", "titleFontSize": 62, "titleFont": "Liberation Sans", "titleFontWeight": "bold", "titleColor": "black",
                                 "titleX": 960, "titleY": 137, "titleBaseline": "alphabetic", "titleAlign": "center"}},
                  "y": {"field": "lg", "type": "quantitative", "scale": {"domain": [-17.06, 0.85], "nice": false, "zero": false},
                        "axis": {"orient": "left", "values": [-13, -8, -3], "labelExpr": "datum.value == -3 ? '0.001' : datum.value == -8 ? '10⁻⁸' : '10⁻¹³'",
                                 "ticks": false, "domain": false, "grid": false, "labelFontSize": 50, "labelFont": "Liberation Sans",
                                 "labelColor": "black", "labelPadding": 13, "labelOverlap": false, "labelBound": false, "labelFlush": false,
                                 "title": "g[0,t]", "titleFontSize": 60, "titleFont": "Liberation Sans", "titleFontWeight": "bold", "titleColor": "black",
                                 "titleX": -160, "titleY": 639.5, "titleBaseline": "alphabetic", "titleAlign": "center", "titleAngle": -90}}}},
    {"data": {"name": "fits"},
     "mark": {"type": "point", "opacity": 0},
     "encoding": {"x": {"field": "lt", "type": "quantitative", "scale": {"domain": [-0.383, 9.18], "nice": false, "zero": false},
                        "axis": {"orient": "bottom", "values": [0, 1, 2, 3, 4, 5, 6, 7, 8, 9], "labels": false, "domain": false, "grid": false,
                                 "ticks": true, "tickSize": -9, "tickColor": "#6e6e6e", "tickWidth": 1.5, "title": null}},
                  "y": {"field": "lg", "type": "quantitative", "scale": {"domain": [-17.06, 0.85], "nice": false, "zero": false},
                        "axis": {"orient": "left", "values": [-17, -16, -15, -14, -13, -12, -11, -10, -9, -8, -7, -6, -5, -4, -3, -2, -1, 0],
                                 "labels": false, "domain": false, "grid": false, "ticks": true, "tickSize": -9, "tickColor": "#6e6e6e", "tickWidth": 1.5, "title": null}}}},
    {"data": {"name": "fits"},
     "mark": {"type": "point", "opacity": 0},
     "encoding": {"x": {"field": "lt", "type": "quantitative", "scale": {"domain": [-0.383, 9.18], "nice": false, "zero": false},
                        "axis": {"orient": "bottom", "values": [3, 6], "labels": false, "domain": false, "grid": false,
                                 "ticks": true, "tickSize": -19, "tickColor": "#6e6e6e", "tickWidth": 1.5, "title": null}},
                  "y": {"field": "lg", "type": "quantitative", "scale": {"domain": [-17.06, 0.85], "nice": false, "zero": false},
                        "axis": {"orient": "left", "values": [-13, -8, -3],
                                 "labels": false, "domain": false, "grid": false, "ticks": true, "tickSize": -19, "tickColor": "#6e6e6e", "tickWidth": 1.5, "title": null}}}},
    {"data": {"name": "fits"},
     "mark": {"type": "point", "opacity": 0},
     "encoding": {"x": {"field": "lt", "type": "quantitative", "scale": {"domain": [-0.383, 9.18], "nice": false, "zero": false},
                        "axis": {"orient": "top", "values": [0, 1, 2, 3, 4, 5, 6, 7, 8, 9], "labels": false, "domain": false, "grid": false,
                                 "ticks": true, "tickSize": -8, "tickColor": "#6e6e6e", "tickWidth": 1.5, "title": null}},
                  "y": {"field": "lg", "type": "quantitative", "scale": {"domain": [-17.06, 0.85], "nice": false, "zero": false},
                        "axis": {"orient": "right", "values": [-17, -16, -15, -14, -13, -12, -11, -10, -9, -8, -7, -6, -5, -4, -3, -2, -1, 0],
                                 "labels": false, "domain": false, "grid": false, "ticks": true, "tickSize": -8, "tickColor": "#6e6e6e", "tickWidth": 1.5, "title": null}}}},
    {"data": {"name": "fits"},
     "mark": {"type": "point", "opacity": 0},
     "encoding": {"x": {"field": "lt", "type": "quantitative", "scale": {"domain": [-0.383, 9.18], "nice": false, "zero": false},
                        "axis": {"orient": "top", "values": [3, 6], "labels": false, "domain": false, "grid": false,
                                 "ticks": true, "tickSize": -16, "tickColor": "#6e6e6e", "tickWidth": 1.5, "title": null}},
                  "y": {"field": "lg", "type": "quantitative", "scale": {"domain": [-17.06, 0.85], "nice": false, "zero": false},
                        "axis": {"orient": "right", "values": [-13, -8, -3],
                                 "labels": false, "domain": false, "grid": false, "ticks": true, "tickSize": -16, "tickColor": "#6e6e6e", "tickWidth": 1.5, "title": null}}}}
  ],
  "resolve": {"axis": {"x": "independent", "y": "independent"}}
}
